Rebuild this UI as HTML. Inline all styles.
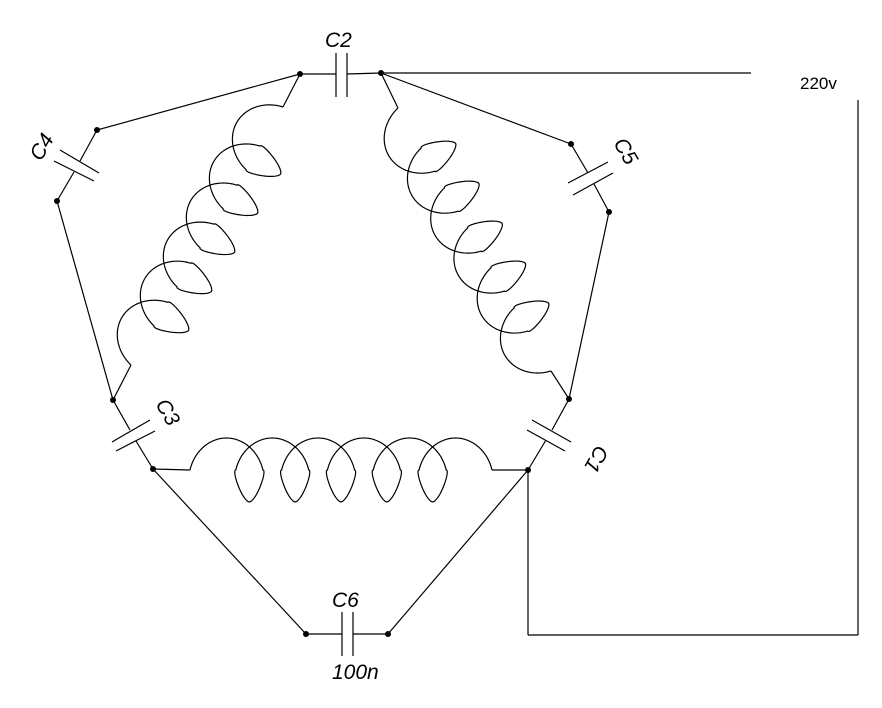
<!DOCTYPE html>
<html><head><meta charset="utf-8"><style>
html,body{margin:0;padding:0;background:#fff;}
svg{display:block;}
text{font-family:"Liberation Sans",sans-serif;font-style:italic;font-size:21px;fill:#000;}
</style></head><body>
<svg id="s" width="882" height="708" viewBox="0 0 882 708" xmlns="http://www.w3.org/2000/svg">
<g stroke="#000" stroke-width="1.2" fill="none">
<line x1="300" y1="74" x2="336" y2="74"/><line x1="347" y1="74" x2="381" y2="73"/>
<line x1="336" y1="53" x2="336" y2="97"/><line x1="347" y1="53" x2="347" y2="97"/>
<line x1="381" y1="73" x2="751" y2="73"/>
<line x1="858" y1="100" x2="858" y2="635"/>
<line x1="528" y1="635" x2="858" y2="635"/>
<line x1="528" y1="470" x2="528" y2="635"/>
<line x1="300" y1="74" x2="97" y2="130"/>
<line x1="97" y1="130" x2="80" y2="161"/><line x1="74" y1="172" x2="57" y2="201"/>
<line x1="60" y1="150" x2="99" y2="173"/><line x1="54" y1="161" x2="94" y2="181"/>
<line x1="57" y1="201" x2="113" y2="400"/>
<line x1="113" y1="400" x2="130" y2="430"/><line x1="136" y1="441" x2="153" y2="469"/>
<line x1="112" y1="442" x2="150" y2="420"/><line x1="116" y1="451" x2="155" y2="431"/>
<line x1="153" y1="469" x2="190" y2="470"/>
<line x1="153" y1="469" x2="306" y2="634"/>
<line x1="306" y1="634" x2="342" y2="634"/><line x1="353" y1="634" x2="388" y2="634"/>
<line x1="342" y1="612" x2="342" y2="656"/><line x1="353" y1="612" x2="353" y2="656"/>
<line x1="388" y1="634" x2="528" y2="470"/>
<line x1="492" y1="470" x2="528" y2="470"/>
<line x1="528" y1="470" x2="546" y2="440"/><line x1="552" y1="430" x2="569" y2="399"/>
<line x1="532" y1="420" x2="571" y2="442"/><line x1="527" y1="430" x2="565" y2="451"/>
<line x1="569" y1="399" x2="609" y2="212"/>
<line x1="609" y1="212" x2="594" y2="184"/><line x1="588" y1="173" x2="571" y2="144"/>
<line x1="568" y1="183" x2="608" y2="162"/><line x1="573" y1="195" x2="613" y2="173"/>
<line x1="571" y1="144" x2="381" y2="73"/>
<line x1="300" y1="74" x2="283" y2="107"/>
<line x1="131" y1="365" x2="113" y2="400"/>
<line x1="381" y1="73" x2="398" y2="108"/>
<line x1="551" y1="371" x2="569" y2="399"/>
<path id="c1"/><path id="c2"/><path id="c3"/>
</g>
<g fill="#000">
<circle cx="300" cy="74" r="3"/><circle cx="381" cy="73" r="3"/>
<circle cx="97" cy="130" r="3"/><circle cx="57" cy="201" r="3"/>
<circle cx="113" cy="400" r="3"/><circle cx="153" cy="469" r="3"/>
<circle cx="306" cy="634" r="3"/><circle cx="388" cy="634" r="3"/>
<circle cx="528" cy="470" r="3"/><circle cx="569" cy="399" r="3"/>
<circle cx="609" cy="212" r="3"/><circle cx="571" cy="144" r="3"/>
</g>
<text x="325" y="47">C2</text>
<text x="800" y="89" style="font-style:normal;font-size:17px">220v</text>
<text x="332" y="607">C6</text>
<text x="332" y="679">100n</text>
<text transform="translate(41,162) rotate(-60)">C4</text>
<text transform="translate(613,143) rotate(60)">C5</text>
<text transform="translate(155,404) rotate(60)">C3</text>
<text transform="translate(597,444) rotate(120)">C1</text>
</svg>
<script>
function coil(id,x0,y0,x1,y1,sg){
 var dx=x1-x0,dy=y1-y0,L=Math.hypot(dx,dy),ux=dx/L,uy=dy/L;
 var vx=uy*sg,vy=-ux*sg;
 var rx=25,ry=32,b=(L-2*rx)/(11*Math.PI),d="";
 for(var i=0;i<=660;i++){var t=11*Math.PI*i/660;
  var s=Math.sin(t),c=Math.cos(t),u,v;
  if(s>=0){u=b*t-rx*c+rx;v=ry*s;}
  else{var k=Math.abs(c);u=b*t-rx*Math.sign(c)*Math.pow(k,1.0)*0.55-rx*c*0.45+rx;v=-ry*(1-Math.pow(k,1.6));}
  var x=x0+u*ux+v*vx,y=y0+u*uy+v*vy;
  d+=(i?"L":"M")+x.toFixed(2)+" "+y.toFixed(2);}
 document.getElementById(id).setAttribute("d",d);
}
coil("c1",190,470,492,470,1);
coil("c2",283,107,131,365,-1);
coil("c3",398,108,551,371,-1);
</script>
</body></html>
